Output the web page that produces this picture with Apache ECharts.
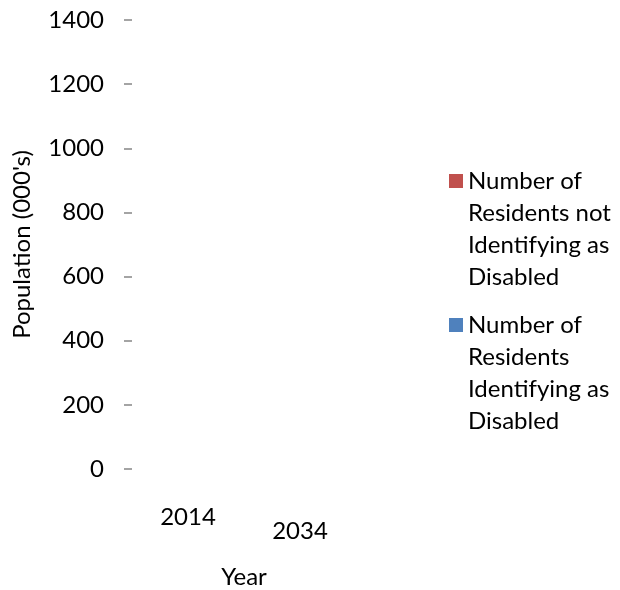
<!DOCTYPE html>
<html>
<head>
<meta charset="utf-8">
<script src="https://cdn.jsdelivr.net/npm/echarts@6/dist/echarts.min.js"></script>
<style>
html,body{margin:0;padding:0;background:#fff;}
#chart{width:620px;height:590px;}
</style>
</head>
<body>
<div id="chart"></div>
<script>
// Data (the reference shows no visible bars: values are not drawn)
const categories = ['2014', '2034'];
const seriesNames = [
  'Number of Residents not Identifying as Disabled',
  'Number of Residents Identifying as Disabled'
];
const notDisabledValues = [null, null];
const disabledValues = [null, null];
const yTicks = [0, 200, 400, 600, 800, 1000, 1200, 1400];

const legendLabels = {};
legendLabels[seriesNames[0]] = 'Number of\nResidents not\nIdentifying as\nDisabled';
legendLabels[seriesNames[1]] = 'Number of\nResidents\nIdentifying as\nDisabled';

const FONT = 'Lato';
const FS = 24;
const chart = echarts.init(document.getElementById('chart'), null, {renderer: 'canvas'});
chart.setOption({
  animation: false,
  backgroundColor: '#ffffff',
  textStyle: {fontFamily: FONT},
  grid: {left: 132, width: 224, top: 20, bottom: 121, containLabel: false, outerBoundsMode: 'none'},
  legend: {
    orient: 'vertical',
    left: 444,
    top: 160,
    itemGap: 16,
    itemWidth: 14,
    itemHeight: 128,
    icon: 'path://M0,0L0,0M0,9L14,9L14,23L0,23ZM0,128L0,128',
    data: [seriesNames[0], seriesNames[1]],
    formatter: function (n) { return legendLabels[n]; },
    textStyle: {fontFamily: FONT, fontSize: FS, color: '#000', lineHeight: 32}
  },
  xAxis: {
    type: 'category',
    data: categories,
    name: 'Year',
    nameLocation: 'middle',
    nameGap: 96,
    nameTextStyle: {fontFamily: FONT, fontSize: FS, color: '#000'},
    axisLine: {show: false},
    axisTick: {show: false},
    axisLabel: {
      interval: 0,
      hideOverlap: false,
      margin: 36,
      fontFamily: FONT, fontSize: FS, color: '#000',
      formatter: function (v, i) { return i === 0 ? '{a|' + v + '}' : '{b|' + v + '}'; },
      rich: {
        a: {fontFamily: FONT, fontSize: FS, color: '#000'},
        b: {fontFamily: FONT, fontSize: FS, color: '#000', padding: [14, 0, 0, 0]}
      }
    }
  },
  yAxis: {
    type: 'value',
    min: yTicks[0],
    max: yTicks[yTicks.length - 1],
    interval: yTicks[1] - yTicks[0],
    name: "Population (000's)",
    nameLocation: 'middle',
    nameGap: 98,
    nameTextStyle: {fontFamily: FONT, fontSize: FS, color: '#000'},
    axisLine: {show: false},
    axisTick: {show: true, length: 8, lineStyle: {color: '#868686', width: 1.5}},
    splitLine: {show: false},
    axisLabel: {
      margin: 28, fontFamily: FONT, fontSize: FS, color: '#000',
      formatter: function (v) { return String(v); }
    }
  },
  series: [
    {
      name: seriesNames[1], type: 'bar', stack: 'total',
      data: disabledValues, barWidth: '60%',
      itemStyle: {color: '#4F81BD'}
    },
    {
      name: seriesNames[0], type: 'bar', stack: 'total',
      data: notDisabledValues, barWidth: '60%',
      itemStyle: {color: '#C0504D'}
    }
  ]
});
</script>
</body>
</html>
